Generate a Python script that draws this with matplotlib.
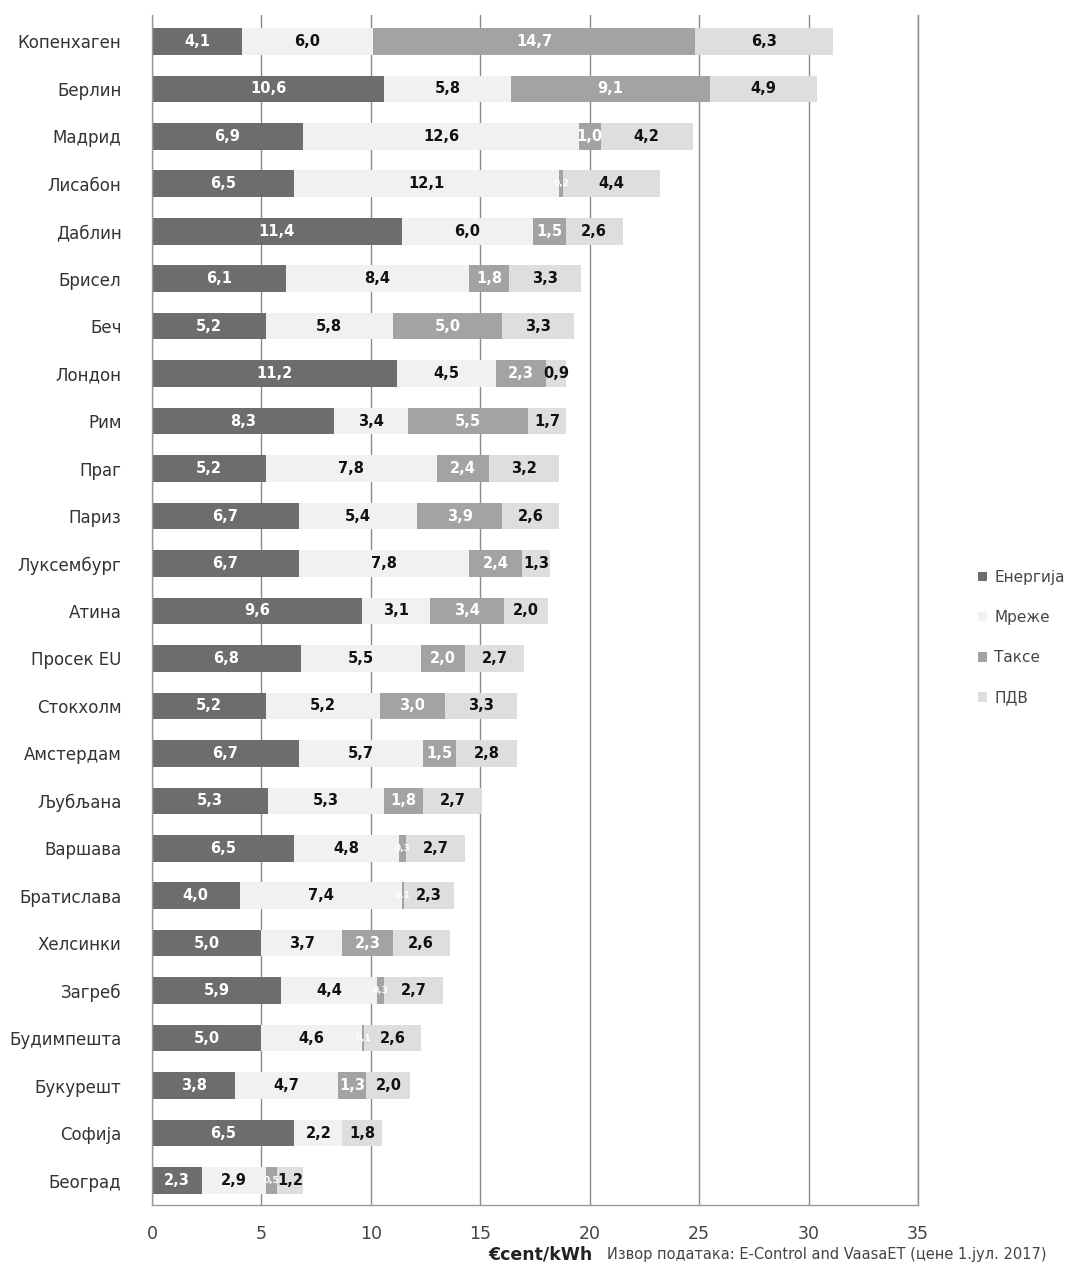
import matplotlib
matplotlib.use("Agg")
import matplotlib.pyplot as plt
import numpy as np

plt.rcParams['font.family'] = ['DejaVu Sans']

cities = ["Копенхаген", "Берлин", "Мадрид", "Лисабон", "Даблин", "Брисел", "Беч",
          "Лондон", "Рим", "Праг", "Париз", "Луксембург", "Атина", "Просек EU",
          "Стокхолм", "Амстердам", "Љубљана", "Варшава", "Братислава", "Хелсинки",
          "Загреб", "Будимпешта", "Букурешт", "Софија", "Београд"]
energy = [4.1, 10.6, 6.9, 6.5, 11.4, 6.1, 5.2, 11.2, 8.3, 5.2, 6.7, 6.7, 9.6, 6.8,
          5.2, 6.7, 5.3, 6.5, 4.0, 5.0, 5.9, 5.0, 3.8, 6.5, 2.3]
networks = [6.0, 5.8, 12.6, 12.1, 6.0, 8.4, 5.8, 4.5, 3.4, 7.8, 5.4, 7.8, 3.1, 5.5,
            5.2, 5.7, 5.3, 4.8, 7.4, 3.7, 4.4, 4.6, 4.7, 2.2, 2.9]
taxes = [14.7, 9.1, 1.0, 0.2, 1.5, 1.8, 5.0, 2.3, 5.5, 2.4, 3.9, 2.4, 3.4, 2.0,
         3.0, 1.5, 1.8, 0.3, 0.1, 2.3, 0.3, 0.1, 1.3, 0.0, 0.5]
vat = [6.3, 4.9, 4.2, 4.4, 2.6, 3.3, 3.3, 0.9, 1.7, 3.2, 2.6, 1.3, 2.0, 2.7,
       3.3, 2.8, 2.7, 2.7, 2.3, 2.6, 2.7, 2.6, 2.0, 1.8, 1.2]
series_names = ["Енергија", "Мреже", "Таксе", "ПДВ"]
xticks = [0, 5, 10, 15, 20, 25, 30, 35]

colors = ["#6d6d6d", "#f1f1f1", "#a3a3a3", "#dedede"]
text_colors = ["white", "#111111", "white", "#111111"]

fig = plt.figure(figsize=(10.73, 12.74), dpi=100)
ax = fig.add_axes([0.1417, 0.054, 0.7138, 0.934])

y = np.arange(len(cities))
left = np.zeros(len(cities))
handles = []
for vals, col, tcol, name in zip([energy, networks, taxes, vat], colors, text_colors, series_names):
    vals = np.array(vals)
    bars = ax.barh(y, vals, left=left, height=0.56, color=col, zorder=2, label=name)
    handles.append(bars)
    for yi, (l, v) in enumerate(zip(left, vals)):
        if v > 0:
            fs = 10.5 if v >= 0.8 else 6.5
            ax.text(l + v / 2, yi, f"{v:.1f}".replace(".", ","), ha="center", va="center",
                    fontsize=fs, fontweight="bold", color=tcol, zorder=3)
    left = left + vals

ax.set_ylim(len(cities) - 0.5 + 0.02, -0.5 - 0.05)
ax.set_xlim(0, 35)
ax.set_yticks(y)
ax.set_yticklabels(cities, fontsize=12, color="#333333")
ax.set_xticks(xticks)
ax.set_xticklabels([str(t) for t in xticks], fontsize=12.5, color="#444444")
ax.tick_params(axis="both", length=0)
ax.tick_params(axis="x", pad=14)
ax.tick_params(axis="y", pad=22)
ax.xaxis.grid(True, color="#8a8a8a", linewidth=1.0, zorder=0)
ax.axvline(35, color="#8a8a8a", linewidth=1.0, zorder=0, clip_on=False)
ax.set_axisbelow(True)
for s in ["top", "right"]:
    ax.spines[s].set_visible(False)
for s in ["left", "bottom"]:
    ax.spines[s].set_color("#9a9a9a")
    ax.spines[s].set_linewidth(1.0)

leg = ax.legend(handles=handles, labels=series_names, loc="center left",
                bbox_to_anchor=(1.06, 0.477), frameon=False, fontsize=11,
                handlelength=0.6, handleheight=0.6, handletextpad=0.5, labelspacing=1.65,
                labelcolor="#444444")

fig.text(0.455, 0.0085, "€cent/kWh", fontsize=12.5, fontweight="bold", color="#222222",
         ha="left", va="bottom")
fig.text(0.566, 0.0095, "Извор података: E-Control and VaasaET (цене 1.јул. 2017)",
         fontsize=10.5, color="#444444", ha="left", va="bottom")

fig.savefig("out.png", dpi=100)
